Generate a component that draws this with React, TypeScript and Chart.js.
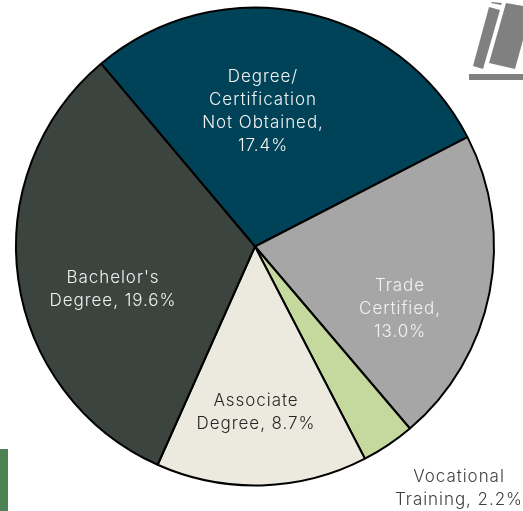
import React, { useEffect, useRef } from "react";
import { Chart, registerables } from "chart.js";

Chart.register(...registerables);

const categories = ["Degree/ Certification Not Obtained", "Trade Certified", "Vocational Training", "Associate Degree", "Bachelor's Degree"];
const values = [17.4, 13.0, 2.2, 8.7, 19.6];
const colors = ["#004358", "#A6A6A6", "#C5D89D", "#ECEADF", "#3B443E"];
const labelLines = [
  ["Degree/", "Certification", "Not Obtained,", "17.4%"],
  ["Trade", "Certified,", "13.0%"],
  ["Vocational", "Training, 2.2%"],
  ["Associate", "Degree, 8.7%"],
  ["Bachelor's", "Degree, 19.6%"],
];
const labelColors = ["#F2F2F2", "#F2F2F2", "#404040", "#262626", "#F2F2F2"];

const FONT = '300 17px Inter, sans-serif';
const LINE = 22.8;

const labelCenters: [number, number][] = [
  [263, 111.5],
  [400, 309],
  [459, 488.5],
  [256, 412],
  [113, 289],
];

const decorations = {
  id: "decorations",
  beforeDraw(chart: any) {
    const c = chart.ctx;
    c.save();
    c.fillStyle = "#4E8252";
    c.fillRect(0, 449, 8, 62);
    c.fillStyle = "#808080";
    const poly = (pts: number[][]) => {
      c.beginPath();
      pts.forEach(([x, y], i) => (i ? c.lineTo(x, y) : c.moveTo(x, y)));
      c.closePath();
      c.fill();
    };
    poly([[489, 7], [500, 10], [483, 69], [473, 66]]);
    poly([[492, 2], [502, 3], [501, 5], [491, 3]]);
    poly([[506, 3], [523, 6], [523, 40], [515, 69], [489, 63]]);
    poly([[469, 74], [523, 74], [523, 80], [469, 80]]);
    c.restore();
  },
};

const sliceLabels = {
  id: "sliceLabels",
  afterDatasetsDraw(chart: any) {
    const c = chart.ctx;
    c.save();
    c.font = FONT;
    c.letterSpacing = "0.95px";
    c.textAlign = "center";
    c.textBaseline = "middle";
    labelLines.forEach((lines, i) => {
      const [x, y] = labelCenters[i];
      c.fillStyle = labelColors[i];
      lines.forEach((t, j) => c.fillText(t, x, y + (j - (lines.length - 1) / 2) * LINE));
    });
    c.restore();
  },
};

export default function App() {
  const ref = useRef<HTMLCanvasElement>(null);
  useEffect(() => {
    document.body.style.margin = "0";
    const chart = new Chart(ref.current!, {
      type: "pie",
      data: {
        labels: categories,
        datasets: [{ data: values, backgroundColor: colors, borderColor: "#000000", borderWidth: 2 }],
      },
      options: {
        responsive: false,
        animation: false,
        rotation: -40.1,
        layout: { padding: { left: 15, right: 28, top: 6, bottom: 24 } },
        plugins: { legend: { display: false }, tooltip: { enabled: false } },
      },
      plugins: [decorations, sliceLabels],
    });
    return () => chart.destroy();
  }, []);
  return <canvas ref={ref} width={523} height={511} style={{ display: "block", width: 523, height: 511 }} />;
}
